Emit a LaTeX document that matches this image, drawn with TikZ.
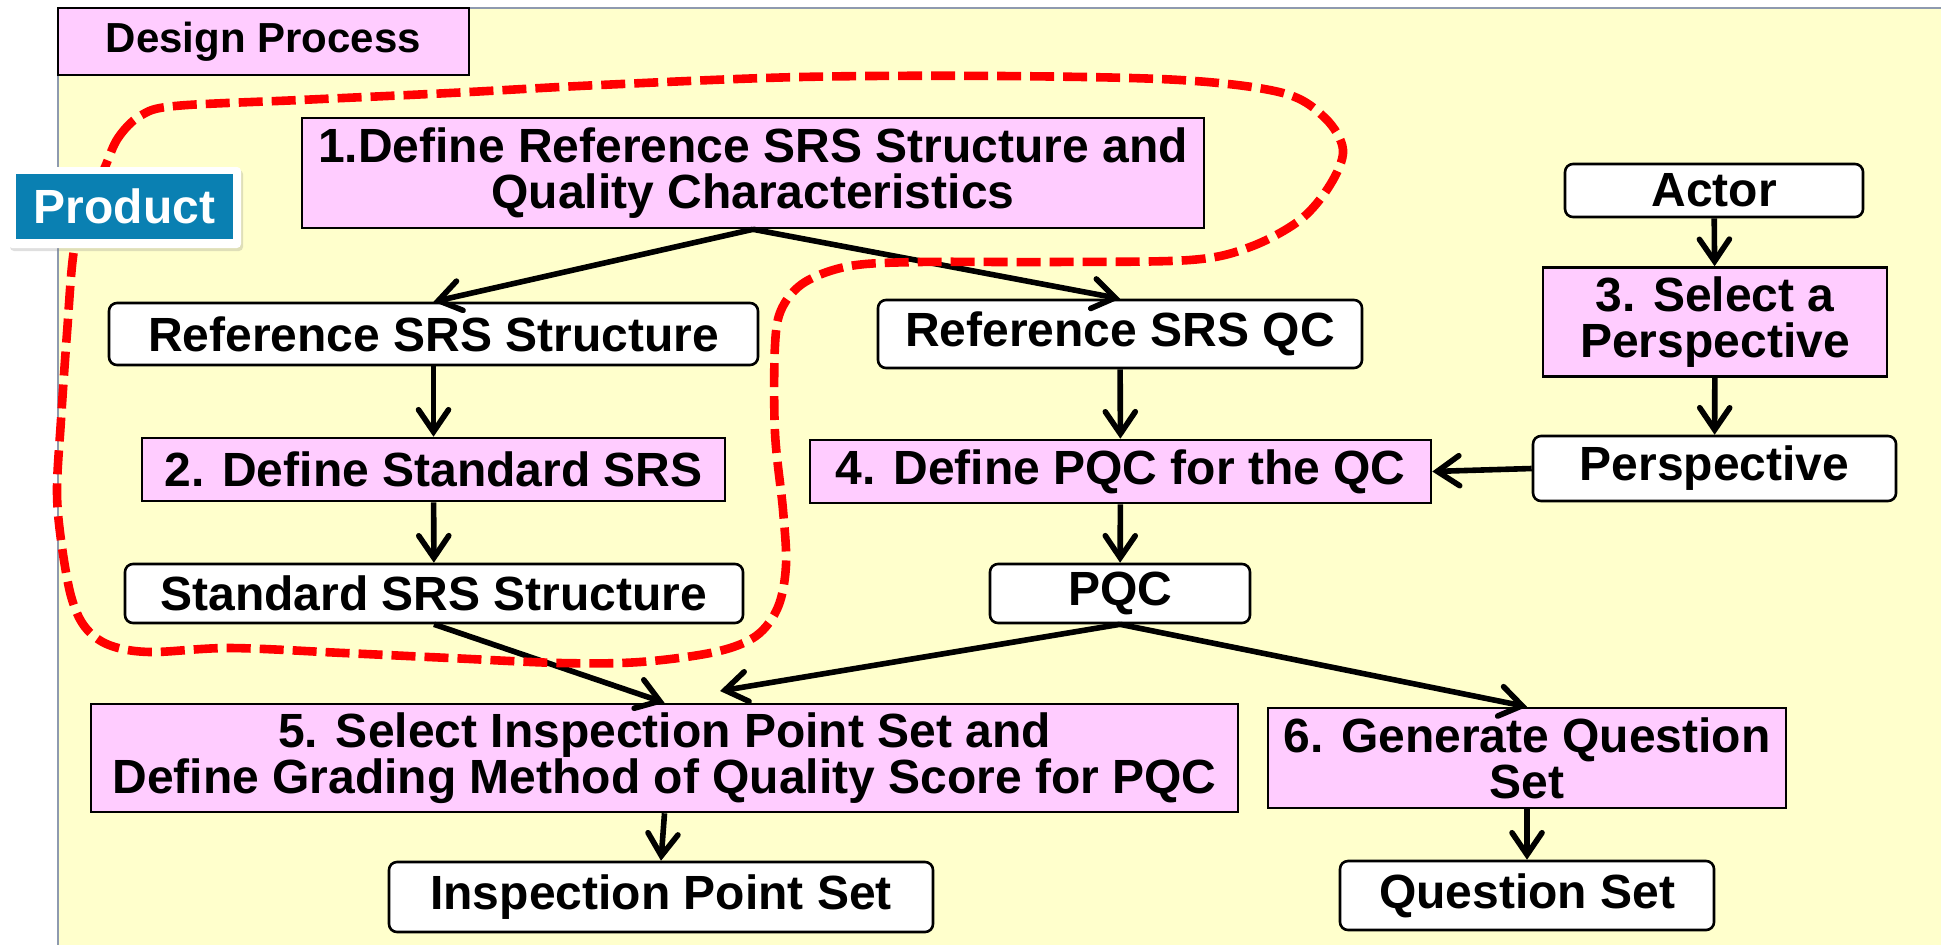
\documentclass[tikz,border=0pt]{standalone}
\usepackage{fontspec}
\setmainfont{Liberation Sans}
\usetikzlibrary{arrows.meta,shadows}
\definecolor{bgyellow}{HTML}{FFFFCC}
\definecolor{steppink}{HTML}{FFCCFF}
\definecolor{prodteal}{HTML}{0A80B2}
\definecolor{framegray}{HTML}{8E9AAF}
\definecolor{loopred}{HTML}{FF0000}
\tikzset{
  txt/.style={font=\bfseries\fontsize{24pt}{23pt}\selectfont, align=center, inner sep=0pt},
  stepbox/.style={txt, draw=black, line width=1.3pt, fill=steppink},
  itembox/.style={txt, draw=black, line width=1.3pt, fill=white, rounded corners=4pt},
  arr/.style={line width=2.8pt, -{Straight Barb[length=11pt,width=15pt,line cap=round]}},
  loop/.style={loopred, line width=4.3pt, dash pattern=on 12pt off 4.5pt}
}
\begin{document}
\begin{tikzpicture}[x=0.5pt,y=-0.5pt]
\useasboundingbox (0,0) rectangle (1941,944);
\clip (0,0) rectangle (1941,944);

% frame of the design process
\fill[white] (0,0) rectangle (1941,944);
\draw[framegray, line width=1.2pt, fill=bgyellow] (58,8) rectangle (1960,960);

% title tab
\node[stepbox, font=\bfseries\fontsize{21pt}{21pt}\selectfont,
      minimum width=205.5pt, minimum height=33.5pt] (design) at (263.5,41.5) {Design Process};

% process steps and work products
\node[stepbox, minimum width=451pt, minimum height=55pt] (b1) at (753,173)
  {1.Define Reference SRS Structure and\\Quality Characteristics};
\node[itembox, minimum width=149pt, minimum height=26.5pt] (actor) at (1714,190.5) {Actor};
\node[stepbox, minimum width=172pt, minimum height=54.5pt] (b3) at (1715,322) {3. Select a\\Perspective};
\node[itembox, minimum width=181.5pt, minimum height=32.5pt] (persp) at (1714.5,468.5) {Perspective};
\node[itembox, minimum width=324.5pt, minimum height=31pt] (rss) at (433.5,334) {Reference SRS Structure};
\node[itembox, minimum width=242pt, minimum height=34pt] (rqc) at (1120,334) {Reference SRS QC};
\node[stepbox, minimum width=291.5pt, minimum height=31.5pt] (b2) at (433.5,469.5) {2. Define Standard SRS};
\node[stepbox, minimum width=310.5pt, minimum height=31.5pt] (b4) at (1120.5,471.5) {4. Define PQC for the QC};
\node[itembox, minimum width=309pt, minimum height=29.5pt] (sss) at (434,593.5) {Standard SRS Structure};
\node[itembox, minimum width=130pt, minimum height=29.5pt] (pqc) at (1120,593.5) {PQC};
\node[stepbox, minimum width=573.5pt, minimum height=54pt] (b5) at (664.5,758)
  {5. Select Inspection Point Set and\\Define Grading Method of Quality Score for PQC};
\node[stepbox, minimum width=259pt, minimum height=50pt] (b6) at (1527,758) {6. Generate Question\\Set};
\node[itembox, minimum width=272pt, minimum height=35pt] (ips) at (661,897) {Inspection Point Set};
\node[itembox, minimum width=187pt, minimum height=34.5pt] (qs) at (1527,895.5) {Question Set};

\coordinate (b5in) at (720,691);

% connectors
\draw[arr] (b1.south) -- (rss.north);
\draw[arr] (b1.south) -- (rqc.north);
\draw[arr] (actor) -- (b3);
\draw[arr] (b3) -- (persp);
\draw[arr] (persp.west) -- (b4.east);
\draw[arr] (rss) -- (b2);
\draw[arr] (b2) -- (sss);
\draw[arr] (rqc) -- (b4);
\draw[arr] (b4) -- (pqc);
\draw[arr] (sss.south) -- (b5.north);
\draw[arr] (pqc.south) -- (b5in);
\draw[arr] (pqc.south) -- (b6.north);
\draw[arr] (b5.south) -- (ips.north);
\draw[arr] (b6) -- (qs);

% product boundary
\draw[loop] plot[smooth cycle, tension=0.55] coordinates {
  (105,167) (118,138) (140,116) (175,106) (300,100) (450,93) (600,85) (800,77) (1000,76)
  (1180,80) (1283,93) (1325,118) (1343,150) (1330,185) (1300,220) (1250,247) (1190,260)
  (1050,262) (919,262) (850,266) (805,282) (782,308) (775,345) (775,433) (783,510)
  (786,565) (778,607) (756,636) (715,652) (640,662) (560,663) (450,658) (344,653)
  (230,648) (150,652) (109,645) (85,627) (71,596) (61,540) (57,490) (61,420) (67,333)
  (74,250) (88,205)};

% product label
\node[fill=white, minimum width=116.5pt, minimum height=40.5pt, rounded corners=2pt,
      drop shadow={opacity=0.25, shadow xshift=1pt, shadow yshift=-1.5pt}] (prodframe) at (124.5,207.5) {};
\node[fill=prodteal, text=white, txt, minimum width=108.5pt, minimum height=32.5pt] (product) at (124.5,206.5) {Product};
\end{tikzpicture}
\end{document}
